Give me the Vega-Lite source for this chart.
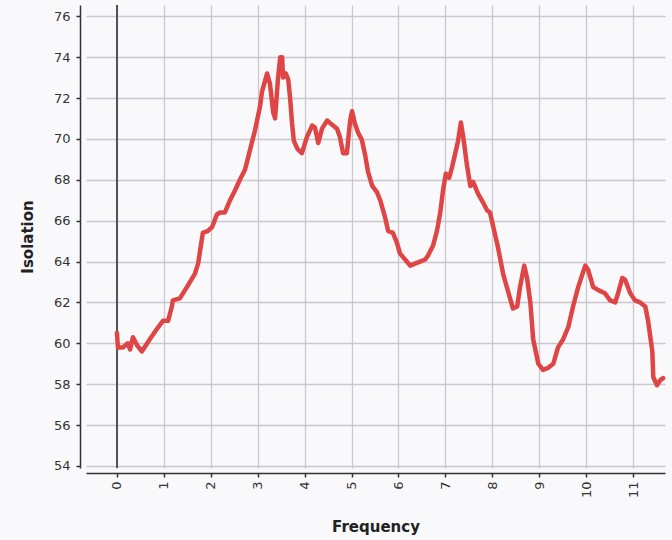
{
  "$schema": "https://vega.github.io/schema/vega-lite/v6.json",
  "width": 579,
  "height": 463,
  "autosize": {"type": "none"},
  "padding": {"left": 86, "top": 5, "right": 7, "bottom": 72},
  "background": "#f9f9fb",
  "config": {"view": {"stroke": null}, "font": "DejaVu Sans"},
  "data": {
    "values": [
      {"frequency": 0.0, "isolation": 60.5},
      {"frequency": 0.02, "isolation": 59.8},
      {"frequency": 0.13, "isolation": 59.8},
      {"frequency": 0.23, "isolation": 60.0},
      {"frequency": 0.28, "isolation": 59.7},
      {"frequency": 0.34, "isolation": 60.3},
      {"frequency": 0.43, "isolation": 59.9},
      {"frequency": 0.53, "isolation": 59.6},
      {"frequency": 0.70, "isolation": 60.2},
      {"frequency": 0.85, "isolation": 60.7},
      {"frequency": 0.98, "isolation": 61.1},
      {"frequency": 1.09, "isolation": 61.1},
      {"frequency": 1.17, "isolation": 61.8},
      {"frequency": 1.19, "isolation": 62.1},
      {"frequency": 1.34, "isolation": 62.2},
      {"frequency": 1.49, "isolation": 62.75},
      {"frequency": 1.66, "isolation": 63.4},
      {"frequency": 1.73, "isolation": 63.9},
      {"frequency": 1.83, "isolation": 65.4},
      {"frequency": 1.94, "isolation": 65.5},
      {"frequency": 2.03, "isolation": 65.7},
      {"frequency": 2.13, "isolation": 66.3},
      {"frequency": 2.20, "isolation": 66.4},
      {"frequency": 2.30, "isolation": 66.4},
      {"frequency": 2.41, "isolation": 67.0},
      {"frequency": 2.52, "isolation": 67.5},
      {"frequency": 2.62, "isolation": 68.0},
      {"frequency": 2.73, "isolation": 68.5},
      {"frequency": 2.84, "isolation": 69.5},
      {"frequency": 2.94, "isolation": 70.4},
      {"frequency": 3.05, "isolation": 71.6},
      {"frequency": 3.09, "isolation": 72.3},
      {"frequency": 3.20, "isolation": 73.2},
      {"frequency": 3.26, "isolation": 72.7},
      {"frequency": 3.33, "isolation": 71.3},
      {"frequency": 3.37, "isolation": 71.0},
      {"frequency": 3.43, "isolation": 72.9},
      {"frequency": 3.48, "isolation": 74.0},
      {"frequency": 3.52, "isolation": 74.0},
      {"frequency": 3.54, "isolation": 73.0},
      {"frequency": 3.60, "isolation": 73.2},
      {"frequency": 3.65, "isolation": 72.9},
      {"frequency": 3.69, "isolation": 72.0},
      {"frequency": 3.73, "isolation": 70.8},
      {"frequency": 3.77, "isolation": 69.9},
      {"frequency": 3.85, "isolation": 69.5},
      {"frequency": 3.94, "isolation": 69.3},
      {"frequency": 4.05, "isolation": 70.1},
      {"frequency": 4.16, "isolation": 70.65},
      {"frequency": 4.22, "isolation": 70.55},
      {"frequency": 4.29, "isolation": 69.8},
      {"frequency": 4.37, "isolation": 70.5},
      {"frequency": 4.48, "isolation": 70.9},
      {"frequency": 4.58, "isolation": 70.7},
      {"frequency": 4.69, "isolation": 70.5},
      {"frequency": 4.75, "isolation": 70.1},
      {"frequency": 4.82, "isolation": 69.3},
      {"frequency": 4.90, "isolation": 69.3},
      {"frequency": 4.97, "isolation": 70.9},
      {"frequency": 5.01, "isolation": 71.35},
      {"frequency": 5.07, "isolation": 70.75},
      {"frequency": 5.14, "isolation": 70.3},
      {"frequency": 5.22, "isolation": 69.95},
      {"frequency": 5.29, "isolation": 69.2},
      {"frequency": 5.35, "isolation": 68.4},
      {"frequency": 5.44, "isolation": 67.7},
      {"frequency": 5.54, "isolation": 67.4},
      {"frequency": 5.61, "isolation": 67.0},
      {"frequency": 5.71, "isolation": 66.2},
      {"frequency": 5.78, "isolation": 65.5},
      {"frequency": 5.88, "isolation": 65.4},
      {"frequency": 5.97, "isolation": 64.9},
      {"frequency": 6.03, "isolation": 64.4},
      {"frequency": 6.14, "isolation": 64.1},
      {"frequency": 6.25, "isolation": 63.8},
      {"frequency": 6.35, "isolation": 63.9},
      {"frequency": 6.46, "isolation": 64.0},
      {"frequency": 6.57, "isolation": 64.1},
      {"frequency": 6.63, "isolation": 64.3},
      {"frequency": 6.74, "isolation": 64.8},
      {"frequency": 6.82, "isolation": 65.5},
      {"frequency": 6.89, "isolation": 66.4},
      {"frequency": 6.95, "isolation": 67.5},
      {"frequency": 7.01, "isolation": 68.3},
      {"frequency": 7.08, "isolation": 68.1},
      {"frequency": 7.14, "isolation": 68.6},
      {"frequency": 7.21, "isolation": 69.3},
      {"frequency": 7.27, "isolation": 69.9},
      {"frequency": 7.33, "isolation": 70.8},
      {"frequency": 7.38, "isolation": 70.1},
      {"frequency": 7.46, "isolation": 68.7},
      {"frequency": 7.53, "isolation": 67.7},
      {"frequency": 7.59, "isolation": 67.9},
      {"frequency": 7.70, "isolation": 67.3},
      {"frequency": 7.80, "isolation": 66.9},
      {"frequency": 7.89, "isolation": 66.5},
      {"frequency": 7.95, "isolation": 66.4},
      {"frequency": 8.02, "isolation": 65.7},
      {"frequency": 8.12, "isolation": 64.7},
      {"frequency": 8.23, "isolation": 63.4},
      {"frequency": 8.34, "isolation": 62.5},
      {"frequency": 8.44, "isolation": 61.7},
      {"frequency": 8.53, "isolation": 61.8},
      {"frequency": 8.59, "isolation": 62.75},
      {"frequency": 8.68, "isolation": 63.8},
      {"frequency": 8.74, "isolation": 63.2},
      {"frequency": 8.81, "isolation": 62.0},
      {"frequency": 8.87, "isolation": 60.2},
      {"frequency": 8.98, "isolation": 59.0},
      {"frequency": 9.08, "isolation": 58.7},
      {"frequency": 9.19, "isolation": 58.8},
      {"frequency": 9.30, "isolation": 59.0},
      {"frequency": 9.40, "isolation": 59.8},
      {"frequency": 9.51, "isolation": 60.2},
      {"frequency": 9.62, "isolation": 60.8},
      {"frequency": 9.72, "isolation": 61.8},
      {"frequency": 9.83, "isolation": 62.75},
      {"frequency": 9.98, "isolation": 63.8},
      {"frequency": 10.04, "isolation": 63.6},
      {"frequency": 10.15, "isolation": 62.75},
      {"frequency": 10.26, "isolation": 62.6},
      {"frequency": 10.40, "isolation": 62.45},
      {"frequency": 10.51, "isolation": 62.1},
      {"frequency": 10.62, "isolation": 62.0},
      {"frequency": 10.68, "isolation": 62.45},
      {"frequency": 10.77, "isolation": 63.2},
      {"frequency": 10.83, "isolation": 63.1},
      {"frequency": 10.94, "isolation": 62.45},
      {"frequency": 11.04, "isolation": 62.1},
      {"frequency": 11.15, "isolation": 62.0},
      {"frequency": 11.26, "isolation": 61.8},
      {"frequency": 11.32, "isolation": 61.1},
      {"frequency": 11.41, "isolation": 59.6},
      {"frequency": 11.43, "isolation": 58.35},
      {"frequency": 11.51, "isolation": 57.95},
      {"frequency": 11.58, "isolation": 58.2},
      {"frequency": 11.64, "isolation": 58.3}
    ]
  },
  "layer": [
    {
      "mark": {"type": "rule", "color": "#555555", "strokeWidth": 1.5},
      "encoding": {"x": {"datum": 0, "type": "quantitative"}}
    },
    {
      "mark": {"type": "line", "color": "#e04545", "strokeWidth": 4.5, "strokeJoin": "round", "strokeCap": "round"},
      "encoding": {
        "x": {
          "field": "frequency",
          "type": "quantitative",
          "scale": {"domain": [-0.66, 11.68], "nice": false, "zero": false},
          "axis": {
            "title": "Frequency",
            "grid": true,
            "values": [0, 1, 2, 3, 4, 5, 6, 7, 8, 9, 10, 11],
            "labelAngle": -90,
            "offset": 5,
            "domainColor": "#333333",
            "domainWidth": 1.5,
            "tickColor": "#333333",
            "tickSize": 4,
            "tickWidth": 1.5,
            "labelColor": "#333333",
            "labelFontSize": 13,
            "labelPadding": 4,
            "gridColor": "#c8c8ce",
            "gridWidth": 1.3,
            "titleFontSize": 15,
            "titleFontWeight": "bold",
            "titleColor": "#222222",
            "titlePadding": 22
          }
        },
        "y": {
          "field": "isolation",
          "type": "quantitative",
          "scale": {"domain": [53.9, 76.55], "nice": false, "zero": false},
          "axis": {
            "title": "Isolation",
            "grid": true,
            "values": [54, 56, 58, 60, 62, 64, 66, 68, 70, 72, 74, 76],
            "offset": 6,
            "domainColor": "#333333",
            "domainWidth": 1.5,
            "tickColor": "#333333",
            "tickSize": 4,
            "tickWidth": 1.5,
            "labelColor": "#333333",
            "labelFontSize": 13,
            "labelPadding": 6,
            "gridColor": "#c8c8ce",
            "gridWidth": 1.3,
            "titleFontSize": 15,
            "titleFontWeight": "bold",
            "titleColor": "#222222",
            "titlePadding": 18
          }
        }
      }
    }
  ]
}
